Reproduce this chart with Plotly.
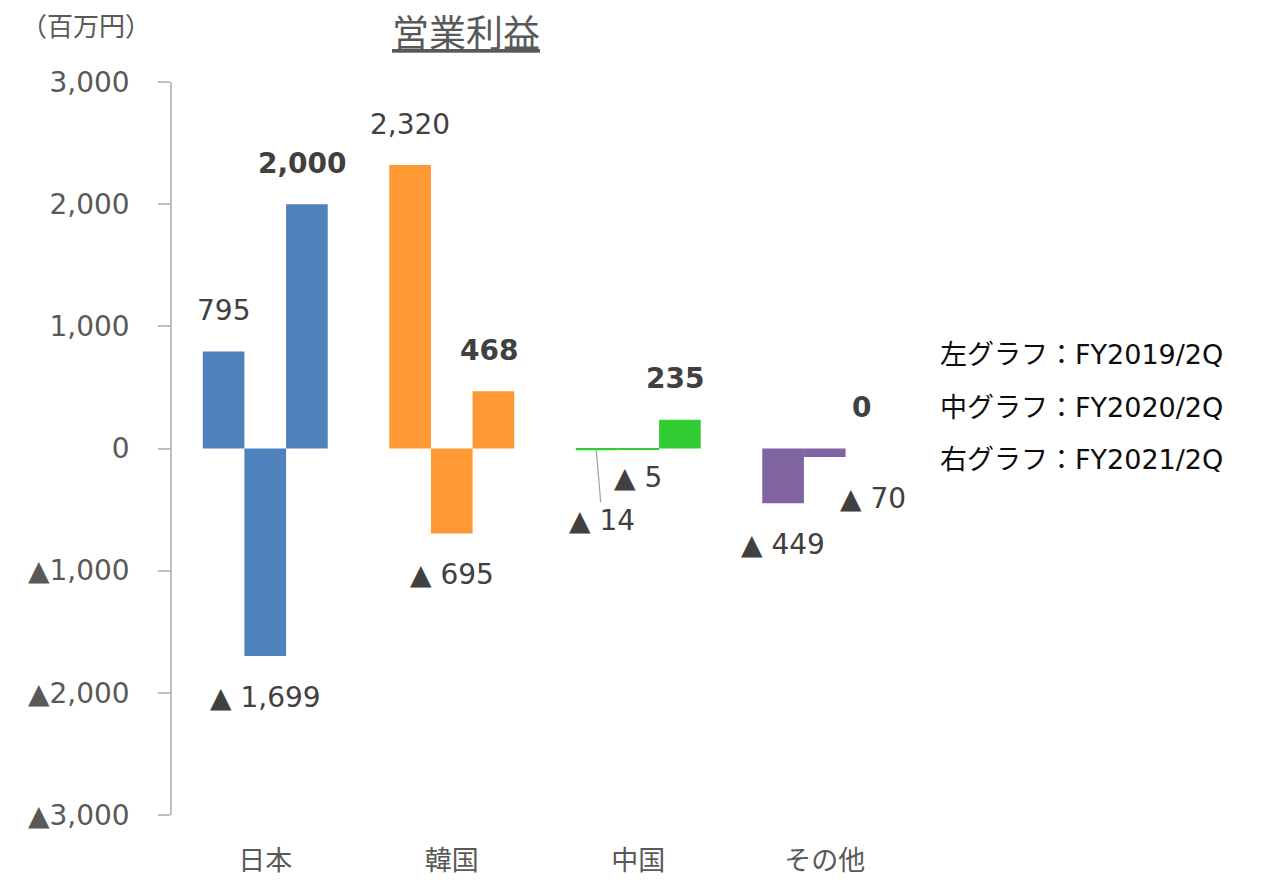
"""
営業利益 grouped bar chart (FY2019/2Q, FY2020/2Q, FY2021/2Q by region)
"""
import plotly.graph_objects as go

# data
categories = ['日本', '韓国', '中国', 'その他']
fy2019_2q = [795, 2320, -14, -449]
fy2020_2q = [-1699, -695, -5, -70]
fy2021_2q = [2000, 468, 235, 0]
series_values = [fy2019_2q, fy2020_2q, fy2021_2q]
series_names = ['FY2019/2Q', 'FY2020/2Q', 'FY2021/2Q']
series_sides = ['左グラフ', '中グラフ', '右グラフ']
y_tickvals = [3000, 2000, 1000, 0, -1000, -2000, -3000]
y_ticktext = ['3,000', '2,000', '1,000', '0', '▲1,000', '▲2,000', '▲3,000']

# styles
region_colors = ['#4F81BD', '#FF9933', '#33CC33', '#8064A2']
FONT = 'DejaVu Sans, Noto Sans CJK JP'
CJK = 'Noto Sans CJK JP'
LABEL_COLOR = '#404040'
BAR_STEP = 42  # px between bars within a group


def fmt(v):
    return f"▲ {abs(v):,}" if v < 0 else f"{v:,}"


fig = go.Figure()

for name, vals in zip(series_names, series_values):
    fig.add_trace(go.Bar(
        x=categories,
        y=vals,
        name=name,
        marker=dict(color=region_colors, line=dict(width=0)),
        showlegend=False,
        hoverinfo='x+y+name',
    ))

# data labels
for i, vals in enumerate(series_values):
    for j, v in enumerate(vals):
        text = fmt(v)
        if i == 2:
            text = f"<b>{text}</b>"
        ann = dict(
            x=categories[j], y=v, xref='x', yref='y',
            text=text, showarrow=False,
            xshift=(i - 1) * BAR_STEP - (5 if i == 2 else 0),
            yshift=41 if v >= 0 else -41,
            font=dict(family=FONT, size=28, color=LABEL_COLOR),
            xanchor='center', yanchor='middle',
        )
        if categories[j] == '中国' and i == 0:
            # leader line down to the label
            ann.update(showarrow=True, arrowhead=0, arrowwidth=1.3,
                       arrowcolor='#A6A6A6', standoff=0,
                       ax=6, ay=70, yshift=0)
        elif categories[j] == '中国' and i == 1:
            ann.update(yshift=-28)
        elif categories[j] == 'その他' and i == 1:
            ann.update(xshift=BAR_STEP + 6)
        fig.add_annotation(**ann)

# right-hand key
for k, (side, name) in enumerate(zip(series_sides, series_names)):
    fig.add_annotation(
        x=1.027, y=0.6276 - k * 0.071, xref='paper', yref='paper',
        text=f"{side}：{name}", showarrow=False,
        xanchor='left', yanchor='middle',
        font=dict(family=FONT, size=27, color='#0D0D0D'),
    )

# title and unit
fig.add_annotation(
    x=0.394, y=1.07, xref='paper', yref='paper',
    text='<u>営業利益</u>', showarrow=False,
    xanchor='center', yanchor='middle',
    font=dict(family=CJK, size=37, color='#595959'),
)
fig.add_annotation(
    x=-0.205, y=1.078, xref='paper', yref='paper',
    text='（百万円）', showarrow=False,
    xanchor='left', yanchor='middle',
    font=dict(family=CJK, size=26, color='#595959'),
)

fig.update_layout(
    width=1268,
    height=880,
    margin=dict(l=172, r=350, t=82, b=65),
    barmode='group',
    bargap=0.33,
    bargroupgap=0,
    paper_bgcolor='white',
    plot_bgcolor='white',
    font=dict(family=FONT, color='#595959'),
    xaxis=dict(
        type='category',
        categoryarray=categories,
        automargin=False,
        showline=False, showgrid=False, zeroline=False,
        ticks='outside', ticklen=22, tickcolor='rgba(0,0,0,0)',
        tickfont=dict(family=CJK, size=27, color='#595959'),
    ),
    xaxis2=dict(
        overlaying='x', anchor='free', position=0.5,
        range=[-0.5, len(categories) - 0.5],
        automargin=False,
        showline=True, linecolor='#D9D9D9', linewidth=1.5,
        showgrid=False, zeroline=False,
        ticks='outside', ticklen=10, tickwidth=1.5, tickcolor='#D9D9D9',
        tickvals=[j + 0.5 for j in range(len(categories))],
        showticklabels=False,
    ),
    yaxis=dict(
        range=[-3000, 3000],
        tickvals=y_tickvals,
        ticktext=y_ticktext,
        automargin=False,
        showline=True, linecolor='#BFBFBF', linewidth=1.5,
        showgrid=False, zeroline=False,
        ticks='outside', ticklen=12, tickwidth=1.5, tickcolor='#BFBFBF',
        ticklabelstandoff=23,
        tickfont=dict(family=FONT, size=28, color='#595959'),
    ),
)

# drop the default page margin so the 1268x880 figure fills the window
fig.write_html(
    "out.html",
    config={'displayModeBar': False},
    post_script="document.body.style.margin='0';document.body.style.overflow='hidden';",
)
